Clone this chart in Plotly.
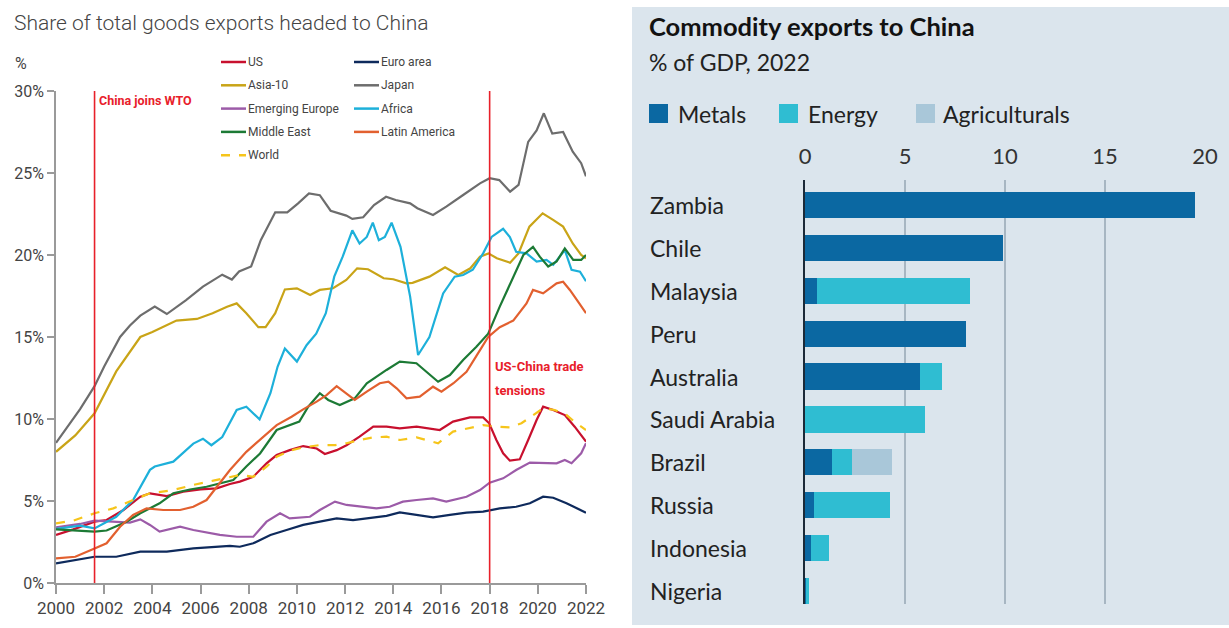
import plotly.graph_objects as go

W, H = 1229, 628
def px(x):
    return x / W
def py(y):
    return 1 - y / H

NARROW = "Roboto, Liberation Sans, sans-serif"
ECON = "Lato, Roboto, sans-serif"

# ---------------- Left chart: share of total goods exports headed to China (%)
us_x = [2000, 2000.72, 2001.6, 2002.1, 2002.8, 2003.5, 2003.9, 2004.6, 2005.28, 2006.0, 2006.67, 2007.22,
        2007.63, 2008.19, 2008.74, 2009.16, 2009.7, 2010.26, 2010.82, 2011.16, 2011.65, 2012.06, 2012.6,
        2013.17, 2013.72, 2014.27, 2014.97, 2015.38, 2015.93, 2016.48, 2017.18, 2017.73, 2017.98, 2018.28,
        2018.56, 2018.84, 2019.25, 2019.6, 2019.95, 2020.22, 2020.64, 2021.12, 2021.53, 2022.0]
us_y = [2.93, 3.27, 3.74, 3.84, 4.45, 5.26, 5.47, 5.3, 5.57, 5.71, 5.77, 6.04, 6.18, 6.48, 7.3, 7.8, 8.1,
        8.35, 8.2, 7.87, 8.1, 8.4, 8.92, 9.53, 9.53, 9.43, 9.53, 9.43, 9.33, 9.84, 10.1, 10.1, 9.74, 8.72,
        7.91, 7.46, 7.54, 8.72, 9.94, 10.75, 10.55, 10.24, 9.53, 8.62]

euro_x = [2000, 2001.6, 2002.5, 2003.5, 2004.6, 2005.7, 2007.22, 2007.63, 2008.19, 2008.9, 2009.57, 2010.26,
          2010.95, 2011.65, 2012.33, 2013.0, 2013.72, 2014.27, 2014.97, 2015.65, 2016.35, 2017.04, 2017.73,
          2018.42, 2019.1, 2019.67, 2020.22, 2020.64, 2021.19, 2021.6, 2022.0]
euro_y = [1.2, 1.6, 1.6, 1.91, 1.91, 2.11, 2.26, 2.21, 2.42, 2.93, 3.23, 3.54, 3.74, 3.94, 3.84, 3.94, 4.09,
          4.3, 4.15, 4.0, 4.15, 4.29, 4.35, 4.55, 4.65, 4.86, 5.26, 5.2, 4.86, 4.55, 4.29]

asia_x = [2000, 2000.8, 2001.6, 2002.5, 2003.5, 2004.0, 2005.0, 2005.85, 2006.5, 2007.1, 2007.5, 2007.9,
          2008.4, 2008.7, 2009.1, 2009.5, 2010.0, 2010.55, 2010.95, 2011.5, 2012.05, 2012.5, 2012.95, 2013.6,
          2014.0, 2014.55, 2014.8, 2015.5, 2016.15, 2016.7, 2017.2, 2017.6, 2017.95, 2018.3, 2018.85, 2019.2,
          2019.65, 2020.2, 2020.65, 2021.05, 2021.45, 2021.8, 2022.0]
asia_y = [8.0, 9.0, 10.35, 12.9, 15.0, 15.3, 16.0, 16.1, 16.45, 16.85, 17.05, 16.45, 15.6, 15.6, 16.45, 17.9,
          17.97, 17.56, 17.87, 17.97, 18.48, 19.19, 19.13, 18.58, 18.52, 18.27, 18.3, 18.68, 19.25, 18.78,
          19.19, 19.9, 20.1, 19.8, 19.53, 20.1, 21.73, 22.54, 22.13, 21.73, 20.7, 20.0, 19.8]

japan_x = [2000, 2001.0, 2001.6, 2002.0, 2002.66, 2003.07, 2003.5, 2004.1, 2004.6, 2005.4, 2006.1, 2006.9,
           2007.3, 2007.6, 2008.1, 2008.5, 2009.1, 2009.6, 2010.05, 2010.5, 2010.95, 2011.4, 2012.05, 2012.3,
           2012.75, 2013.2, 2013.7, 2014.1, 2014.7, 2015.0, 2015.65, 2016.2, 2016.9, 2017.6, 2018.0, 2018.4,
           2018.85, 2019.2, 2019.6, 2019.95, 2020.25, 2020.6, 2021.05, 2021.45, 2021.8, 2022.0]
japan_y = [8.55, 10.6, 12.0, 13.2, 15.0, 15.7, 16.3, 16.85, 16.4, 17.25, 18.07, 18.8, 18.5, 19.0, 19.3, 20.9,
           22.6, 22.6, 23.15, 23.76, 23.65, 22.7, 22.4, 22.2, 22.3, 23.05, 23.55, 23.35, 23.15, 22.85, 22.44,
           22.95, 23.66, 24.37, 24.68, 24.57, 23.86, 24.27, 26.9, 27.6, 28.64, 27.4, 27.5, 26.3, 25.6, 24.8]

emeu_x = [2000, 2001.0, 2001.6, 2002.5, 2003.07, 2003.5, 2003.9, 2004.3, 2004.87, 2005.15, 2005.7, 2006.25,
          2006.8, 2007.5, 2008.19, 2008.74, 2009.3, 2009.7, 2010.54, 2010.95, 2011.58, 2012.06, 2012.6, 2013.3,
          2013.85, 2014.4, 2014.97, 2015.65, 2016.2, 2017.04, 2017.6, 2018.0, 2018.56, 2019.1, 2019.67, 2020.22,
          2020.78, 2021.12, 2021.4, 2021.8, 2022.0]
emeu_y = [3.4, 3.6, 3.8, 3.74, 3.68, 3.88, 3.54, 3.13, 3.33, 3.43, 3.23, 3.07, 2.93, 2.82, 2.82, 3.74, 4.25,
          3.94, 4.04, 4.45, 4.96, 4.76, 4.65, 4.55, 4.65, 4.96, 5.06, 5.16, 4.96, 5.26, 5.67, 6.12, 6.38, 6.89,
          7.34, 7.3, 7.3, 7.5, 7.3, 7.91, 8.52]

africa_x = [2000, 2001.0, 2001.6, 2002.5, 2003.2, 2003.9, 2004.1, 2004.87, 2005.7, 2006.1, 2006.45, 2006.9,
            2007.5, 2007.9, 2008.45, 2008.9, 2009.2, 2009.5, 2010.0, 2010.4, 2010.8, 2011.2, 2011.55, 2011.9,
            2012.3, 2012.6, 2012.9, 2013.15, 2013.4, 2013.65, 2013.93, 2014.3, 2014.7, 2015.03, 2015.5, 2016.07,
            2016.55, 2016.9, 2017.3, 2017.73, 2018.08, 2018.56, 2018.84, 2019.1, 2019.53, 2019.95, 2020.36,
            2020.64, 2021.12, 2021.4, 2021.75, 2022.0]
africa_y = [3.3, 3.5, 3.33, 4.04, 5.06, 6.9, 7.1, 7.4, 8.5, 8.8, 8.4, 8.9, 10.55, 10.75, 9.98, 11.57, 13.2,
            14.3, 13.5, 14.5, 15.2, 16.45, 18.68, 19.9, 21.5, 20.7, 21.1, 21.97, 20.9, 21.1, 21.97, 20.5, 17.46,
            13.9, 15.0, 17.66, 18.68, 18.78, 19.1, 20.1, 21.1, 21.6, 21.1, 20.2, 20.1, 19.6, 19.7, 19.4, 20.3,
            19.1, 18.98, 18.4]

mideast_x = [2000, 2001.6, 2002.1, 2002.93, 2003.5, 2004.3, 2004.87, 2005.56, 2006.25, 2007.08, 2007.36,
             2007.9, 2008.47, 2009.16, 2009.7, 2010.1, 2010.47, 2010.95, 2011.3, 2011.78, 2012.4, 2012.9,
             2013.72, 2014.27, 2014.96, 2015.38, 2015.86, 2016.35, 2016.9, 2017.45, 2017.94, 2018.42, 2018.98,
             2019.4, 2019.8, 2020.08, 2020.43, 2020.78, 2021.12, 2021.47, 2021.8, 2022.0]
mideast_y = [3.27, 3.13, 3.2, 3.74, 4.25, 4.86, 5.47, 5.7, 5.87, 6.18, 6.28, 7.1, 7.9, 9.33, 9.63, 9.84, 10.75,
             11.57, 11.16, 10.85, 11.26, 12.18, 12.99, 13.5, 13.4, 12.9, 12.27, 12.68, 13.6, 14.4, 15.2, 16.85,
             18.68, 20.0, 20.5, 19.9, 19.3, 19.6, 20.4, 19.7, 19.7, 20.0]

latam_x = [2000, 2000.8, 2001.6, 2002.1, 2002.66, 2003.2, 2003.76, 2004.45, 2005.15, 2005.7, 2006.25, 2006.67,
           2007.22, 2007.9, 2008.46, 2009.16, 2009.78, 2010.26, 2010.82, 2011.23, 2011.65, 2012.06, 2012.4,
           2012.9, 2013.44, 2013.8, 2014.14, 2014.55, 2015.1, 2015.65, 2016.0, 2016.5, 2017.04, 2017.6, 2017.94,
           2018.42, 2018.98, 2019.53, 2019.8, 2020.22, 2020.78, 2021.05, 2021.33, 2021.67, 2022.0]
latam_y = [1.5, 1.6, 2.1, 2.42, 3.43, 4.15, 4.55, 4.45, 4.45, 4.65, 5.06, 5.87, 6.89, 8.0, 8.7, 9.63, 10.14,
           10.59, 11.06, 11.46, 12.0, 11.57, 11.16, 11.67, 12.18, 12.28, 11.87, 11.26, 11.36, 11.97, 11.67,
           12.18, 12.88, 14.2, 15.0, 15.6, 16.0, 17.05, 17.87, 17.66, 18.27, 18.37, 17.87, 17.15, 16.45]

world_x = [2000, 2000.72, 2001.6, 2002.38, 2003.2, 2003.9, 2004.87, 2005.7, 2006.53, 2007.22, 2007.63, 2008.19,
           2008.74, 2009.16, 2009.7, 2010.26, 2010.95, 2011.6, 2012.06, 2012.6, 2013.17, 2013.72, 2014.27,
           2014.97, 2015.38, 2015.86, 2016.48, 2017.18, 2017.73, 2018.28, 2018.84, 2019.32, 2019.8, 2020.22,
           2020.7, 2021.19, 2021.6, 2022.0]
world_y = [3.64, 3.8, 4.25, 4.55, 5.06, 5.47, 5.67, 5.98, 6.24, 6.48, 6.59, 6.48, 7.09, 7.7, 8.07, 8.27, 8.41,
           8.41, 8.52, 8.72, 8.88, 8.92, 8.72, 8.88, 8.72, 8.52, 9.23, 9.43, 9.63, 9.53, 9.49, 9.74, 10.24,
           10.65, 10.55, 10.24, 9.74, 9.33]

event_years = [2001.6, 2018.0]
event_labels = [["China joins WTO"], ["US-China trade", "tensions"]]

year_ticks = list(range(2000, 2023, 2))
pct_ticks = [0, 5, 10, 15, 20, 25, 30]

# (name, x, y, colour, dash)
series = [
    ("US", us_x, us_y, "#c8102e", "solid"),
    ("Euro area", euro_x, euro_y, "#0e2a5c", "solid"),
    ("Asia-10", asia_x, asia_y, "#c9a417", "solid"),
    ("Japan", japan_x, japan_y, "#6d6d6d", "solid"),
    ("Emerging Europe", emeu_x, emeu_y, "#9c5ba8", "solid"),
    ("Africa", africa_x, africa_y, "#1db0da", "solid"),
    ("Middle East", mideast_x, mideast_y, "#1c7a35", "solid"),
    ("Latin America", latam_x, latam_y, "#e2602f", "solid"),
    ("World", world_x, world_y, "#f6c51b", "dash"),
]
legend_col1 = ["US", "Asia-10", "Emerging Europe", "Middle East", "World"]
legend_col2 = ["Euro area", "Japan", "Africa", "Latin America"]

# ---------------- Right chart: commodity exports to China, % of GDP 2022
countries = ["Zambia", "Chile", "Malaysia", "Peru", "Australia", "Saudi Arabia", "Brazil", "Russia",
             "Indonesia", "Nigeria"]
metals = [19.5, 9.9, 0.6, 8.05, 5.75, 0.0, 1.35, 0.45, 0.3, 0.05]
energy = [0.0, 0.0, 7.65, 0.0, 1.12, 6.0, 1.0, 3.8, 0.92, 0.15]
agri = [0.0, 0.0, 0.0, 0.0, 0.0, 0.0, 2.02, 0.0, 0.0, 0.0]
bar_ticks = [0, 5, 10, 15, 20]
bar_series = [("Metals", metals, "#0b68a2"), ("Energy", energy, "#2fbdd2"), ("Agriculturals", agri, "#a9c7d9")]

fig = go.Figure()

for name, xs, ys, col, dash in series:
    fig.add_trace(go.Scatter(x=xs, y=ys, mode="lines", name=name, xaxis="x", yaxis="y",
                             line=dict(color=col, width=2.2, dash=dash), showlegend=False))

for name, vals, col in bar_series:
    fig.add_trace(go.Bar(y=countries, x=vals, orientation="h", name=name, xaxis="x2", yaxis="y2",
                         marker=dict(color=col, line=dict(width=0)), showlegend=False))

shapes = []
annotations = []

# right panel background
shapes.append(dict(type="rect", xref="paper", yref="paper", x0=px(632), x1=1.0, y0=py(625), y1=py(7),
                   fillcolor="#dbe5ed", line=dict(width=0), layer="below"))

# event lines and their labels
for yr in event_years:
    shapes.append(dict(type="line", xref="x", yref="y", x0=yr, x1=yr, y0=0, y1=30,
                       line=dict(color="#e8202a", width=1.6)))
annotations.append(dict(x=event_years[0], y=29.45, xref="x", yref="y", xanchor="left", yanchor="middle",
                        xshift=2, text="<b>%s</b>" % event_labels[0][0], showarrow=False,
                        font=dict(family=NARROW, size=12.5, color="#e8202a")))
for i, line in enumerate(event_labels[1]):
    annotations.append(dict(x=event_years[1], y=13.18 - i * 1.46, xref="x", yref="y", xanchor="left",
                            yanchor="middle", xshift=3, text="<b>%s</b>" % line, showarrow=False,
                            font=dict(family=NARROW, size=13, color="#e8202a")))

# left legend (two columns)
colour_of = {s[0]: (s[3], s[4]) for s in series}
for col_names, lx in ((legend_col1, 221), (legend_col2, 354)):
    for i, name in enumerate(col_names):
        yy = 62 + i * 23.3
        c, d = colour_of[name]
        shapes.append(dict(type="line", xref="paper", yref="paper", x0=px(lx), x1=px(lx + 25),
                           y0=py(yy), y1=py(yy), line=dict(color=c, width=2.5, dash=d)))
        annotations.append(dict(x=px(lx + 25), y=py(yy), xref="paper", yref="paper", xanchor="left",
                                yanchor="middle", text=name, showarrow=False,
                                font=dict(family=NARROW, size=12, color="#444444")))

# left title and unit
annotations.append(dict(x=px(12), y=py(23), xref="paper", yref="paper", xanchor="left", yanchor="middle",
                        text="Share of total goods exports headed to China", showarrow=False,
                        font=dict(family=NARROW, size=21, color="#444444", weight=300)))
annotations.append(dict(x=px(21), y=py(64), xref="paper", yref="paper", xanchor="center", yanchor="middle",
                        text="%", showarrow=False, font=dict(family=NARROW, size=16, color="#444444")))

# right title, subtitle
annotations.append(dict(x=px(647), y=py(26), xref="paper", yref="paper", xanchor="left", yanchor="middle",
                        text="<b>Commodity exports to China</b>", showarrow=False,
                        font=dict(family=ECON, size=25.5, color="#121212")))
annotations.append(dict(x=px(647), y=py(62), xref="paper", yref="paper", xanchor="left", yanchor="middle",
                        text="% of GDP, 2022", showarrow=False,
                        font=dict(family=ECON, size=23, color="#222222")))

# right legend
leg_pos = [(649, 676), (779, 806), (916, 941)]
for (sx, tx), (name, vals, col) in zip(leg_pos, bar_series):
    shapes.append(dict(type="rect", xref="paper", yref="paper", x0=px(sx), x1=px(sx + 19),
                       y0=py(123), y1=py(104), fillcolor=col, line=dict(width=0)))
    annotations.append(dict(x=px(tx), y=py(114), xref="paper", yref="paper", xanchor="left", yanchor="middle",
                            text=name, showarrow=False, font=dict(family=ECON, size=23, color="#222222")))

# right category labels (left-aligned)
for c in countries:
    annotations.append(dict(x=px(648), y=c, xref="paper", yref="y2", xanchor="left", yanchor="middle",
                            text=c, showarrow=False, font=dict(family=ECON, size=23, color="#222222")))

fig.update_layout(
    width=W, height=H,
    margin=dict(l=0, r=0, t=0, b=0),
    paper_bgcolor="white", plot_bgcolor="rgba(0,0,0,0)",
    barmode="stack", bargap=0.39,
    showlegend=False,
    shapes=shapes, annotations=annotations,
    xaxis=dict(domain=[px(56), px(586)], range=[2000, 2022], tickmode="array", tickvals=year_ticks,
               ticktext=[str(t) for t in year_ticks], tickangle=0, showgrid=False, zeroline=False,
               showline=True, linecolor="#9a9a9a", linewidth=1.5, ticks="outside", ticklen=9,
               tickcolor="#9a9a9a", tickwidth=1.5, anchor="y", automargin=False,
               tickfont=dict(family=NARROW, size=17, color="#444444")),
    yaxis=dict(domain=[py(583), py(91)], range=[0, 30], tickmode="array", tickvals=pct_ticks,
               ticktext=["%d%%" % t for t in pct_ticks], showgrid=False, zeroline=False,
               showline=True, linecolor="#9a9a9a", linewidth=1.5, ticks="outside", ticklen=7,
               tickcolor="#9a9a9a", tickwidth=1.5, anchor="x", automargin=False,
               tickfont=dict(family=NARROW, size=16, color="#444444")),
    xaxis2=dict(domain=[px(805), px(1205)], range=[0, 20], side="top", tickmode="array", tickvals=bar_ticks,
                showgrid=True, gridcolor="#a7b6c2", gridwidth=1.5, zeroline=False, showline=False,
                ticks="outside", ticklen=6, tickcolor="rgba(0,0,0,0)", anchor="y2", automargin=False,
                tickfont=dict(family=ECON, size=22, color="#333333")),
    yaxis2=dict(domain=[py(604), py(180)], type="category", categoryorder="array", categoryarray=countries,
                range=[9.3, -0.58], showticklabels=False, showgrid=False, zeroline=False,
                showline=True, linecolor="#1b2a38", linewidth=2, layer="above traces", anchor="x2",
                automargin=False),
)

fig.write_html("out.html")
